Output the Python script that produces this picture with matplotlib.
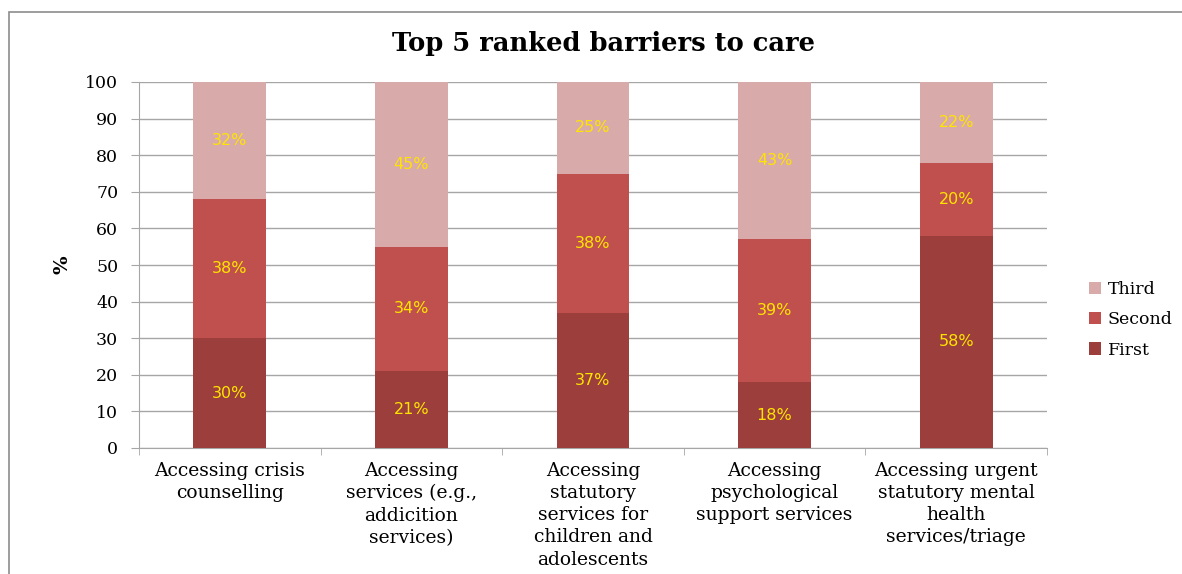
import matplotlib
matplotlib.use("Agg")
import matplotlib.pyplot as plt
import numpy as np
from matplotlib.patches import Rectangle

categories = [
    "Accessing crisis\ncounselling",
    "Accessing\nservices (e.g.,\naddicition\nservices)",
    "Accessing\nstatutory\nservices for\nchildren and\nadolescents",
    "Accessing\npsychological\nsupport services",
    "Accessing urgent\nstatutory mental\nhealth\nservices/triage",
]
first = [30, 21, 37, 18, 58]
second = [38, 34, 38, 39, 20]
third = [32, 45, 25, 43, 22]
series_names = ["First", "Second", "Third"]
colors = ["#9B3E3C", "#C0504D", "#D9AAAA"]
yticks = [0, 10, 20, 30, 40, 50, 60, 70, 80, 90, 100]

serif = "DejaVu Serif"

fig = plt.figure(figsize=(11.82, 5.74), dpi=100)
ax = fig.add_axes([139/1182, 1 - 448/574, (1047-139)/1182, (448-82)/574])

x = np.arange(len(categories))
bottoms = np.zeros(len(categories))
handles = []
for vals, name, col in zip([first, second, third], series_names, colors):
    b = ax.bar(x, vals, width=0.4, bottom=bottoms, color=col, label=name, zorder=3)
    handles.append(b)
    for xi, v, bt in zip(x, vals, bottoms):
        ax.text(xi, bt + v/2, f"{v}%", ha="center", va="center", color="#FFE400",
                fontsize=11.5, family="DejaVu Sans", zorder=4)
    bottoms = bottoms + np.array(vals)

ax.set_xlim(-0.5, len(categories) - 0.5)
ax.set_ylim(0, 100)
ax.set_yticks(yticks)
ax.set_yticklabels([str(t) for t in yticks], family=serif, fontsize=12.5)
ax.yaxis.grid(True, color="#A6A6A6", linewidth=1, zorder=0)
ax.set_axisbelow(True)

ax.set_xticks(x)
ax.set_xticklabels(categories, family=serif, fontsize=13.5, linespacing=1.3)
ax.tick_params(axis="x", which="major", length=0, pad=10)
ax.set_xticks(np.arange(-0.5, len(categories) + 0.5, 1), minor=True)
ax.tick_params(axis="x", which="minor", length=5, color="#A6A6A6", direction="out")
ax.tick_params(axis="y", length=6, color="#A6A6A6", direction="out", pad=9)

for s in ["top", "right"]:
    ax.spines[s].set_visible(False)
ax.spines["left"].set_color("#A6A6A6")
ax.spines["bottom"].set_color("#A6A6A6")

fig.text(62/1182, 1 - 265/574, "%", rotation=90, ha="center", va="center",
         family=serif, fontsize=14, fontweight="bold")
fig.text(603/1182, 1 - 43/574, "Top 5 ranked barriers to care", ha="center", va="center",
         family=serif, fontsize=18.5, fontweight="bold")

leg = fig.legend(handles[::-1], series_names[::-1], loc="center left",
                 bbox_to_anchor=(1073/1182, 1 - 320/574), frameon=False,
                 prop={"family": serif, "size": 12.5}, handlelength=0.7, handleheight=0.7,
                 handletextpad=0.4, labelspacing=0.75)

fig.patches.append(Rectangle((9/1182, -0.1), 1.2, 1 - 12/574 + 0.1, transform=fig.transFigure,
                             fill=False, edgecolor="#8C8C8C", linewidth=1.2))

fig.savefig("out.png", dpi=100)
